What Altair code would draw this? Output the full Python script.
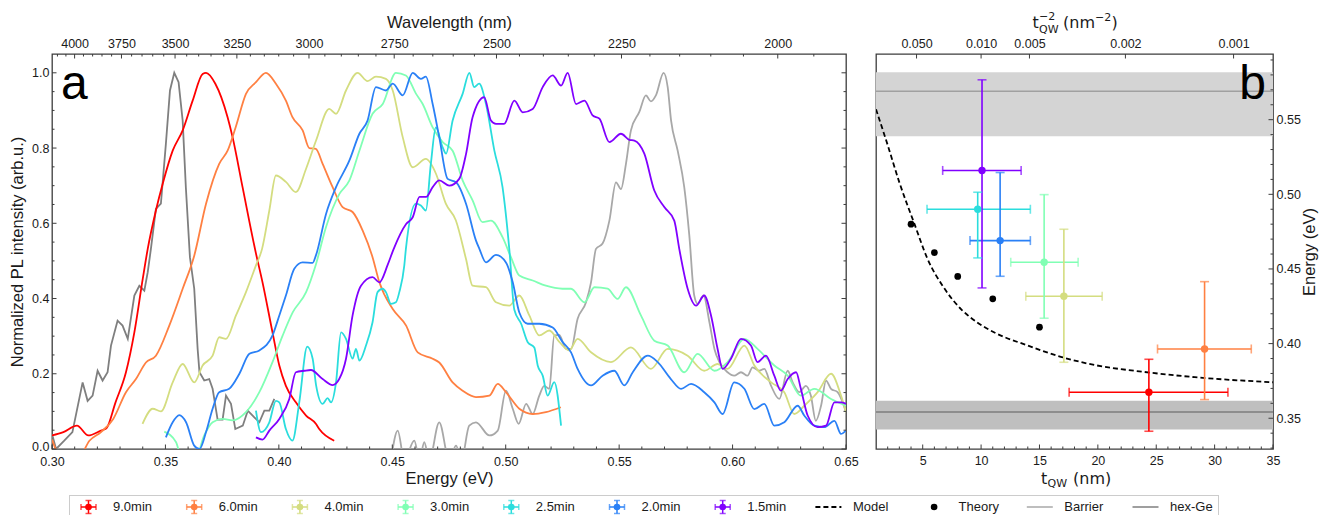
import math
import altair as alt
import pandas as pd

FONT = "Liberation Sans"
MATH_FONT = "DejaVu Sans"
INK = "#1a1a1a"
SPINE = "#3c3c3c"

# ---------------- panel a : normalized PL spectra ----------------
series_names = ["9.0min", "6.0min", "4.0min", "3.0min", "2.5min", "2.0min", "1.5min"]
series_colors = ["#ff0000", "#ff8042", "#d4dd80", "#80ffb4", "#2adddd", "#2a80f6", "#8000ff"]
hexge_color = "#7f7f7f"
barrier_color = "#a8a8a8"

e_9_0 = [0.300, 0.305, 0.311, 0.316, 0.3216, 0.324, 0.328, 0.3326, 0.3363, 0.340, 0.3422, 0.3458, 0.3488, 0.3532,
         0.3576, 0.362, 0.3664, 0.3679, 0.372, 0.3774, 0.3796, 0.384, 0.3899, 0.3928, 0.3972, 0.4002, 0.4031,
         0.4075, 0.412, 0.4163, 0.4178, 0.4244]
i_9_0 = [0.036, 0.045, 0.062, 0.036, 0.049, 0.055, 0.124, 0.204, 0.310, 0.452, 0.532, 0.634, 0.705, 0.793,
         0.847, 0.926, 0.997, 1.000, 0.971, 0.882, 0.829, 0.696, 0.520, 0.443, 0.310, 0.222, 0.168,
         0.124, 0.089, 0.067, 0.053, 0.022]

e_6_0 = [0.300, 0.304, 0.312, 0.3165, 0.3216, 0.327, 0.3326, 0.337, 0.3414, 0.3458, 0.3517, 0.3576, 0.3627,
         0.3679, 0.3737, 0.3774, 0.381, 0.3855, 0.3899, 0.3943, 0.3987, 0.4031, 0.406, 0.4105, 0.4134, 0.4163,
         0.4193, 0.4237, 0.4281, 0.4325, 0.437, 0.4413, 0.4443, 0.4502, 0.4561, 0.4612, 0.4678, 0.4707, 0.4766,
         0.481, 0.4869, 0.4928, 0.4965, 0.5001, 0.506, 0.5119, 0.5177, 0.5243]
i_6_0 = [0.025, -0.02, -0.02, 0.022, 0.045, 0.080, 0.151, 0.186, 0.230, 0.248, 0.328, 0.426, 0.514,
         0.652, 0.758, 0.793, 0.856, 0.944, 0.975, 1.000, 0.971, 0.926, 0.882, 0.847, 0.800, 0.798,
         0.758, 0.696, 0.643, 0.630, 0.580, 0.510, 0.443, 0.372, 0.328, 0.257, 0.240, 0.230, 0.177,
         0.155, 0.138, 0.142, 0.173, 0.151, 0.107, 0.093, 0.098, 0.111]

e_4_0 = [0.3399, 0.3444, 0.348, 0.3532, 0.3576, 0.3627, 0.3664, 0.3708, 0.3737, 0.3767, 0.3811, 0.3855, 0.3899,
         0.3926, 0.3958, 0.3987, 0.4031, 0.4075, 0.412, 0.4164, 0.4222, 0.4252, 0.4296, 0.4347, 0.4391, 0.4428,
         0.4472, 0.4502, 0.4546, 0.459, 0.4648, 0.4693, 0.4736, 0.478, 0.4825, 0.4854, 0.4913, 0.4957, 0.5016,
         0.506, 0.5104, 0.5148, 0.5192, 0.5237, 0.528, 0.5317, 0.5376, 0.5464, 0.5552, 0.564, 0.5714, 0.5802,
         0.5875, 0.5934, 0.5978, 0.6052, 0.6096, 0.617, 0.6228, 0.6272, 0.6316, 0.6375, 0.6434, 0.6478, 0.65]
i_4_0 = [0.067, 0.107, 0.100, 0.177, 0.226, 0.177, 0.222, 0.248, 0.297, 0.293, 0.355, 0.417, 0.488,
         0.532, 0.634, 0.727, 0.710, 0.683, 0.745, 0.820, 0.904, 0.891, 0.953, 1.000, 0.978, 0.990,
         0.984, 0.953, 0.829, 0.749, 0.771, 0.731, 0.652, 0.608, 0.505, 0.434, 0.430, 0.390, 0.381,
         0.408, 0.355, 0.302, 0.315, 0.284, 0.262, 0.293, 0.257, 0.231, 0.270, 0.213, 0.266, 0.248,
         0.208, 0.226, 0.213, 0.275, 0.222, 0.177, 0.151, 0.093, 0.115, 0.151, 0.200, 0.142, 0.098]

e_3_0 = [0.3495, 0.3547, 0.357, 0.3635, 0.3671, 0.3708, 0.3752, 0.3796, 0.3855, 0.3914, 0.3972, 0.4017, 0.4061,
         0.412, 0.4163, 0.4208, 0.4267, 0.4311, 0.4355, 0.4413, 0.4458, 0.4516, 0.456, 0.4605, 0.4634, 0.4678,
         0.4722, 0.4766, 0.481, 0.4854, 0.4898, 0.4935, 0.4986, 0.5023, 0.506, 0.5119, 0.5177, 0.525, 0.5288,
         0.5347, 0.5391, 0.5449, 0.5493, 0.553, 0.5596, 0.5655, 0.5714, 0.5787, 0.5846, 0.592, 0.5978, 0.6052,
         0.611, 0.6184, 0.6243, 0.6301, 0.636, 0.6434, 0.65]
i_3_0 = [0.046, 0.018, -0.02, -0.02, 0.036, 0.071, 0.080, 0.076, 0.098, 0.151, 0.231, 0.302, 0.363,
         0.417, 0.490, 0.590, 0.678, 0.714, 0.793, 0.891, 0.917, 1.000, 0.993, 0.944, 0.917, 0.855,
         0.816, 0.793, 0.714, 0.661, 0.603, 0.607, 0.563, 0.510, 0.461, 0.448, 0.434, 0.426, 0.426,
         0.390, 0.430, 0.426, 0.399, 0.430, 0.355, 0.288, 0.275, 0.204, 0.253, 0.208, 0.231, 0.293,
         0.266, 0.222, 0.195, 0.142, 0.160, 0.133, 0.115]

e_2_5 = [0.3899, 0.3921, 0.3958, 0.3987, 0.4002, 0.4031, 0.406, 0.409, 0.4125, 0.4149, 0.4164, 0.4193, 0.4215,
         0.423, 0.4252, 0.4274, 0.4296, 0.4325, 0.434, 0.4355, 0.4384, 0.4413, 0.4435, 0.4458, 0.4472, 0.4494,
         0.4516, 0.4531, 0.4553, 0.456, 0.4604, 0.4626, 0.4648, 0.467, 0.4692, 0.4722, 0.4737, 0.4766, 0.481,
         0.484, 0.4861, 0.4883, 0.4913, 0.495, 0.4986, 0.5016, 0.5038, 0.5068, 0.5097, 0.5126, 0.5141, 0.5163,
         0.5185, 0.5214, 0.5244]
i_2_5 = [0.102, 0.045, 0.071, 0.128, 0.124, 0.053, 0.022, 0.124, 0.272, 0.240, 0.170, 0.120, 0.135,
         0.124, 0.177, 0.310, 0.293, 0.240, 0.266, 0.235, 0.275, 0.337, 0.417, 0.426, 0.417, 0.386,
         0.390, 0.417, 0.488, 0.532, 0.652, 0.647, 0.634, 0.758, 0.855, 0.802, 0.785, 0.873, 0.944,
         1.000, 0.962, 0.971, 0.917, 0.793, 0.696, 0.530, 0.370, 0.333, 0.284, 0.270, 0.222, 0.195,
         0.142, 0.178, 0.062]

e_2_0 = [0.3502, 0.3532, 0.3561, 0.3591, 0.3627, 0.365, 0.3679, 0.3708, 0.3737, 0.3781, 0.3826, 0.387, 0.3914,
         0.3972, 0.4002, 0.4031, 0.4068, 0.4105, 0.4149, 0.4163, 0.4208, 0.4252, 0.4311, 0.4355, 0.4391, 0.4428,
         0.4472, 0.4502, 0.4546, 0.459, 0.4626, 0.4648, 0.4678, 0.4707, 0.4744, 0.4781, 0.4825, 0.4869, 0.4884,
         0.4913, 0.4957, 0.5001, 0.5031, 0.506, 0.5097, 0.5148, 0.5207, 0.5251, 0.5288, 0.5317, 0.5376, 0.5427,
         0.5479, 0.5523, 0.556, 0.5626, 0.567, 0.5728, 0.5773, 0.5817, 0.5875, 0.592, 0.5956, 0.6007, 0.6052,
         0.6096, 0.614, 0.6184, 0.6228, 0.6287, 0.6316, 0.636, 0.6404, 0.6449, 0.6478, 0.65]
i_2_0 = [0.031, 0.071, 0.090, 0.071, 0.009, 0.0, 0.045, 0.107, 0.151, 0.160, 0.200, 0.253, 0.262,
         0.302, 0.355, 0.408, 0.479, 0.496, 0.495, 0.514, 0.625, 0.696, 0.767, 0.838, 0.873, 0.962,
         0.953, 0.971, 0.940, 1.000, 0.984, 0.990, 0.917, 0.829, 0.718, 0.709, 0.652, 0.554, 0.532,
         0.496, 0.516, 0.496, 0.443, 0.363, 0.333, 0.333, 0.323, 0.284, 0.257, 0.213, 0.169, 0.195,
         0.208, 0.169, 0.204, 0.248, 0.231, 0.186, 0.160, 0.173, 0.151, 0.124, 0.093, 0.177, 0.160,
         0.106, 0.120, 0.062, 0.071, 0.115, 0.089, 0.062, 0.058, 0.075, 0.040, 0.049]

e_1_5 = [0.3899, 0.3928, 0.3958, 0.4002, 0.4046, 0.4075, 0.4112, 0.4141, 0.4193, 0.4237, 0.4266, 0.4296, 0.4325,
         0.4362, 0.4413, 0.4443, 0.448, 0.4505, 0.4561, 0.459, 0.462, 0.4649, 0.4678, 0.4707, 0.4751, 0.4795,
         0.4825, 0.4854, 0.4905, 0.4935, 0.4957, 0.4993, 0.5038, 0.5075, 0.5119, 0.5163, 0.5207, 0.5244, 0.5273,
         0.531, 0.5347, 0.5383, 0.5413, 0.5457, 0.5508, 0.5545, 0.5567, 0.5611, 0.5655, 0.5699, 0.5743, 0.5765,
         0.5802, 0.5839, 0.5875, 0.5905, 0.5934, 0.5956, 0.5993, 0.6037, 0.6081, 0.611, 0.6147, 0.6184, 0.6213,
         0.6243, 0.628, 0.6301, 0.6331, 0.6375, 0.6412, 0.6449, 0.6478, 0.65]
i_1_5 = [0.031, 0.025, 0.049, 0.080, 0.133, 0.204, 0.208, 0.210, 0.186, 0.170, 0.186, 0.240, 0.355,
         0.434, 0.457, 0.443, 0.490, 0.530, 0.598, 0.616, 0.670, 0.670, 0.696, 0.714, 0.700, 0.718,
         0.784, 0.882, 0.935, 0.873, 0.864, 0.864, 0.926, 0.895, 0.904, 0.962, 0.993, 0.966, 1.000,
         0.917, 0.926, 0.887, 0.878, 0.816, 0.838, 0.822, 0.820, 0.785, 0.687, 0.643, 0.607, 0.532,
         0.426, 0.381, 0.408, 0.355, 0.266, 0.213, 0.240, 0.293, 0.275, 0.231, 0.248, 0.195, 0.155,
         0.186, 0.204, 0.160, 0.089, 0.058, 0.062, 0.124, 0.124, 0.120]

e_hexge = [0.300, 0.3018, 0.3054, 0.309, 0.3135, 0.3157, 0.3179, 0.3201, 0.3223, 0.3245, 0.326, 0.3289, 0.3311,
           0.3334, 0.3363, 0.3385, 0.3407, 0.3422, 0.3436, 0.3458, 0.348, 0.3502, 0.352, 0.3539, 0.3558, 0.3576,
           0.359, 0.3608, 0.3627, 0.3642, 0.365, 0.3671, 0.3693, 0.3708, 0.373, 0.3752, 0.3767, 0.3789, 0.3808,
           0.3841, 0.3863, 0.3892, 0.3914, 0.3936, 0.3958, 0.398]
i_hexge = [0.040, 0.0, 0.022, 0.045, 0.177, 0.128, 0.142, 0.208, 0.182, 0.204, 0.275, 0.341, 0.328,
           0.293, 0.408, 0.434, 0.421, 0.470, 0.532, 0.638, 0.652, 0.811, 0.953, 1.000, 0.975, 0.873,
           0.696, 0.510, 0.426, 0.266, 0.204, 0.182, 0.186, 0.160, 0.078, 0.078, 0.142, 0.120, 0.053,
           0.062, 0.102, 0.084, 0.071, 0.102, 0.102, 0.133]

e_barrier = [0.4494, 0.4524, 0.4553, 0.4597, 0.462, 0.4641, 0.4663, 0.4707, 0.4751, 0.4781, 0.4805, 0.4839,
             0.4869, 0.4928, 0.4965, 0.5001, 0.5031, 0.5057, 0.509, 0.5119, 0.5148, 0.517, 0.5192, 0.5214, 0.5236,
             0.5266, 0.5288, 0.5317, 0.5354, 0.5376, 0.5398, 0.5427, 0.5457, 0.5486, 0.5508, 0.553, 0.5552,
             0.5589, 0.5618, 0.564, 0.5662, 0.5696, 0.5714, 0.5729, 0.5758, 0.5787, 0.5809, 0.5831, 0.5846,
             0.5872, 0.5898, 0.592, 0.5942, 0.5978, 0.6007, 0.6037, 0.6066, 0.6088, 0.6118, 0.614, 0.6169,
             0.6206, 0.6243, 0.6265, 0.6294, 0.6323, 0.6345, 0.6367, 0.639, 0.6412, 0.6434, 0.6463, 0.65]
i_barrier = [-0.03, 0.049, -0.03, 0.022, -0.03, 0.018, -0.03, 0.071, -0.03, 0.009, -0.03, 0.062,
             0.071, 0.036, 0.049, 0.155, 0.107, 0.067, 0.120, 0.093, 0.142, 0.168, 0.160, 0.302, 0.303,
             0.266, 0.266, 0.346, 0.390, 0.443, 0.532, 0.546, 0.607, 0.709, 0.691, 0.758, 0.847,
             0.896, 0.940, 0.924, 0.940, 1.000, 0.962, 0.873, 0.793, 0.696, 0.570, 0.408, 0.386,
             0.408, 0.337, 0.266, 0.231, 0.204, 0.195, 0.204, 0.195, 0.217, 0.208, 0.213, 0.169,
             0.133, 0.208, 0.177, 0.151, 0.168, 0.142, 0.075, 0.115, 0.182, 0.160, 0.151, 0.098]

# axis ticks of panel a
pa_x_major = [0.30, 0.35, 0.40, 0.45, 0.50, 0.55, 0.60, 0.65]
pa_x_minor = [0.31, 0.32, 0.33, 0.34, 0.36, 0.37, 0.38, 0.39, 0.41, 0.42, 0.43, 0.44, 0.46, 0.47, 0.48, 0.49,
              0.51, 0.52, 0.53, 0.54, 0.56, 0.57, 0.58, 0.59, 0.61, 0.62, 0.63, 0.64]
pa_y_major = [0.0, 0.2, 0.4, 0.6, 0.8, 1.0]
pa_y_minor = [0.05, 0.1, 0.15, 0.25, 0.3, 0.35, 0.45, 0.5, 0.55, 0.65, 0.7, 0.75, 0.85, 0.9, 0.95]
wl_major = [4000, 3750, 3500, 3250, 3000, 2750, 2500, 2250, 2000]
wl_minor = [4100, 4050, 3950, 3900, 3850, 3800, 3700, 3650, 3600, 3550, 3450, 3400, 3350, 3300, 3200, 3150,
            3100, 3050, 2950, 2900, 2850, 2800, 2700, 2650, 2600, 2550, 2450, 2400, 2350, 2300, 2200, 2150,
            2100, 2050, 1950]
HC = 1239.84  # eV*nm

# ---------------- panel b : energy vs QW thickness ----------------
exp_t = [24.37, 29.14, 17.09, 15.40, 9.71, 11.63, 10.08]
exp_t_lo = [17.54, 25.11, 13.83, 12.54, 5.37, 9.05, 6.71]
exp_t_hi = [31.14, 33.14, 20.37, 18.31, 14.22, 14.22, 13.43]
exp_E = [0.3674, 0.3964, 0.4317, 0.4545, 0.490, 0.469, 0.516]
exp_E_lo = [0.3413, 0.3625, 0.3875, 0.417, 0.4574, 0.4451, 0.4373]
exp_E_hi = [0.3895, 0.4415, 0.4766, 0.4998, 0.5014, 0.5146, 0.5767]

theory_t = [4, 6, 8, 11, 15]
theory_E = [0.480, 0.461, 0.445, 0.430, 0.411]

model_t = [1.0, 2.0, 3.0, 4.3, 5.4, 6.85, 8.3, 9.7, 11.1, 14.0, 16.9, 19.7, 24.0, 28.3, 35.0]
model_E = [0.557, 0.533, 0.508, 0.480, 0.457, 0.437, 0.423, 0.414, 0.4076, 0.3987, 0.391, 0.3857, 0.381,
           0.3775, 0.3741]

band_names = ["Barrier", "hex-Ge"]
band_lo = [0.5389, 0.3424]
band_hi = [0.5818, 0.3618]
band_mid = [0.569, 0.3542]
band_fill = ["#d4d4d4", "#bfbfbf"]
band_line = ["#a0a0a0", "#7c7c7c"]

pb_x_major = [5, 10, 15, 20, 25, 30, 35]
pb_x_minor = [2, 3, 4, 6, 7, 8, 9, 11, 12, 13, 14, 16, 17, 18, 19, 21, 22, 23, 24, 26, 27, 28, 29, 31, 32, 33, 34]
pb_y_major = [0.35, 0.40, 0.45, 0.50, 0.55]
pb_y_minor = [0.33, 0.34, 0.36, 0.37, 0.38, 0.39, 0.41, 0.42, 0.43, 0.44, 0.46, 0.47, 0.48, 0.49, 0.51, 0.52,
              0.53, 0.54, 0.56, 0.57, 0.58, 0.59]
pb_top_vals = [0.050, 0.010, 0.005, 0.002, 0.001]

# legend entries
legend_labels = series_names + ["Model", "Theory", "Barrier", "hex-Ge"]
legend_line_colors = ["black", "black", barrier_color, hexge_color]

# ---------------- layout constants ----------------
WA, HA = 794, 395
WB, HB = 397, 395
MAJ, MIN = 4.5, 2.5
PAD_LEFT = 8
ROW_LEFT = 51.5   # page x of the panels' plot-area left edge (legend row aligns to it)

xsA = alt.Scale(domain=[0.30, 0.65], nice=False, zero=False)
ysA = alt.Scale(domain=[0.0, 1.05], nice=False, zero=False)
xsB = alt.Scale(domain=[1, 35], nice=False, zero=False)
ysB = alt.Scale(domain=[0.3294, 0.594], nice=False, zero=False)
col_scale = alt.Scale(domain=series_names, range=series_colors)


def xticks(values, scale, axis, H, length, top=False, field="v", calc=None):
    base = alt.Chart(pd.DataFrame({"v": values}))
    if calc:
        base = base.transform_calculate(**calc)
    if top:
        y, y2 = alt.value(0), alt.value(length)
    else:
        y, y2 = alt.value(H), alt.value(H - length)
    return base.mark_rule(color=SPINE, strokeWidth=1).encode(
        x=alt.X(f"{field}:Q", scale=scale, axis=axis), y=y, y2=y2)


def yticks(values, scale, axis, W, length, right=False):
    base = alt.Chart(pd.DataFrame({"v": values}))
    if right:
        x, x2 = alt.value(W), alt.value(W - length)
    else:
        x, x2 = alt.value(0), alt.value(length)
    return base.mark_rule(color=SPINE, strokeWidth=1).encode(
        y=alt.Y("v:Q", scale=scale, axis=axis), x=x, x2=x2)


# ---------------- build panel a ----------------
frames = []
for name, e, i in zip(series_names, [e_9_0, e_6_0, e_4_0, e_3_0, e_2_5, e_2_0, e_1_5],
                      [i_9_0, i_6_0, i_4_0, i_3_0, i_2_5, i_2_0, i_1_5]):
    d = pd.DataFrame({"E": e, "I": i})
    d["series"] = name
    d["n"] = range(len(d))
    frames.append(d)
spec_df = pd.concat(frames, ignore_index=True)

hexge_df = pd.DataFrame({"E": e_hexge, "I": i_hexge})
barrier_df = pd.DataFrame({"E": e_barrier, "I": i_barrier})

x_axis_a = alt.Axis(values=pa_x_major, format=".2f", title="Energy (eV)", labelPadding=6, titlePadding=3)
y_axis_a = alt.Axis(values=pa_y_major, format=".1f", title="Normalized PL intensity (arb.u.)",
                    labelPadding=3, titlePadding=6,
                    labelOffset=alt.condition("datum.value == 0", alt.value(-2.5), alt.value(0)))

barrier_line_a = alt.Chart(barrier_df).mark_line(
    color=barrier_color, strokeWidth=1.8, clip=True, interpolate="monotone").encode(
    x=alt.X("E:Q", scale=xsA, axis=x_axis_a), y=alt.Y("I:Q", scale=ysA, axis=y_axis_a))
hexge_line_a = alt.Chart(hexge_df).mark_line(
    color=hexge_color, strokeWidth=1.8, clip=True).encode(
    x=alt.X("E:Q", scale=xsA, axis=x_axis_a), y=alt.Y("I:Q", scale=ysA, axis=y_axis_a))
spectra = alt.Chart(spec_df).mark_line(strokeWidth=1.8, clip=True, interpolate="monotone").encode(
    x=alt.X("E:Q", scale=xsA, axis=x_axis_a),
    y=alt.Y("I:Q", scale=ysA, axis=y_axis_a),
    color=alt.Color("series:N", scale=col_scale, legend=None),
    detail="series:N",
    order="n:Q",
)
label_a = alt.Chart(pd.DataFrame({"k": [0]})).mark_text(
    text="a", font=FONT, fontSize=48, align="left", baseline="alphabetic", color="black").encode(
    x=alt.value(9), y=alt.value(45))

core_a = alt.layer(
    barrier_line_a, hexge_line_a, spectra,
    xticks(pa_x_major, xsA, x_axis_a, HA, MAJ), xticks(pa_x_minor, xsA, x_axis_a, HA, MIN),
    xticks(wl_major, xsA, x_axis_a, HA, MAJ, top=True, field="E", calc={"E": f"{HC}/datum.v"}),
    xticks(wl_minor, xsA, x_axis_a, HA, MIN, top=True, field="E", calc={"E": f"{HC}/datum.v"}),
    yticks(pa_y_major, ysA, y_axis_a, WA, MAJ), yticks(pa_y_minor, ysA, y_axis_a, WA, MIN),
    yticks(pa_y_major, ysA, y_axis_a, WA, MAJ, right=True), yticks(pa_y_minor, ysA, y_axis_a, WA, MIN, right=True),
    label_a,
)

top_a = alt.Chart(pd.DataFrame({"nm": wl_major})).transform_calculate(
    E=f"{HC}/datum.nm").mark_point(opacity=0).encode(
    x=alt.X("E:Q", scale=xsA, axis=alt.Axis(
        orient="top", values=[HC / w for w in wl_major],
        labelExpr=f"format(round({HC}/datum.value), 'd')",
        title="Wavelength (nm)", labelPadding=4, titlePadding=7)),
    y=alt.value(0))

panel_a = alt.layer(core_a, top_a).resolve_scale(x="independent").properties(width=WA, height=HA)

# ---------------- build panel b ----------------
exp_df = pd.DataFrame({"series": series_names, "t": exp_t, "t_lo": exp_t_lo, "t_hi": exp_t_hi,
                       "E": exp_E, "E_lo": exp_E_lo, "E_hi": exp_E_hi})
theory_df = pd.DataFrame({"t": theory_t, "E": theory_E})
model_df = pd.DataFrame({"t": model_t, "E": model_E})
band_df = pd.DataFrame({"name": band_names, "lo": band_lo, "hi": band_hi, "mid": band_mid,
                        "fill": band_fill, "line": band_line})

x_axis_b = alt.Axis(values=pb_x_major, format="d", title=None, labelPadding=5)
y_axis_b = alt.Axis(orient="right", values=pb_y_major, format=".2f", title="Energy (eV)",
                    titleAngle=270, titleBaseline="top", labelPadding=3, titlePadding=1)

bands = alt.Chart(band_df).mark_rect().encode(
    y=alt.Y("lo:Q", scale=ysB, axis=y_axis_b), y2="hi:Q",
    x=alt.value(0), x2=alt.value(WB),
    fill=alt.Fill("fill:N", scale=None))
band_lines = alt.Chart(band_df).mark_rule(strokeWidth=1.5).encode(
    y=alt.Y("mid:Q", scale=ysB, axis=y_axis_b),
    x=alt.value(0), x2=alt.value(WB),
    color=alt.Color("line:N", scale=None))
model = alt.Chart(model_df).mark_line(color="black", strokeWidth=1.8, strokeDash=[5, 3],
                                      interpolate="monotone", clip=True).encode(
    x=alt.X("t:Q", scale=xsB, axis=x_axis_b), y=alt.Y("E:Q", scale=ysB, axis=y_axis_b))

eb = alt.Chart(exp_df)
ccol = alt.Color("series:N", scale=col_scale, legend=None)
hbar = eb.mark_rule(strokeWidth=1.6).encode(
    x=alt.X("t_lo:Q", scale=xsB, axis=x_axis_b), x2="t_hi:Q",
    y=alt.Y("E:Q", scale=ysB, axis=y_axis_b), color=ccol)
vbar = eb.mark_rule(strokeWidth=1.6).encode(
    x=alt.X("t:Q", scale=xsB, axis=x_axis_b),
    y=alt.Y("E_lo:Q", scale=ysB, axis=y_axis_b), y2="E_hi:Q", color=ccol)
caps = []
for fx, fy, ori in [("t_lo", "E", "vertical"), ("t_hi", "E", "vertical"),
                    ("t", "E_lo", "horizontal"), ("t", "E_hi", "horizontal")]:
    caps.append(eb.mark_tick(orient=ori, size=9, thickness=1.6).encode(
        x=alt.X(f"{fx}:Q", scale=xsB, axis=x_axis_b),
        y=alt.Y(f"{fy}:Q", scale=ysB, axis=y_axis_b), color=ccol))
pts = eb.mark_circle(size=55, opacity=1).encode(
    x=alt.X("t:Q", scale=xsB, axis=x_axis_b), y=alt.Y("E:Q", scale=ysB, axis=y_axis_b), color=ccol)
theory = alt.Chart(theory_df).mark_circle(size=45, color="black", opacity=1).encode(
    x=alt.X("t:Q", scale=xsB, axis=x_axis_b), y=alt.Y("E:Q", scale=ysB, axis=y_axis_b))

label_b = alt.Chart(pd.DataFrame({"k": [0]})).mark_text(
    text="b", font=FONT, fontSize=48, align="right", baseline="alphabetic", color="black").encode(
    x=alt.value(390), y=alt.value(45))


def txt(s, x, y, size, font=MATH_FONT):
    return alt.Chart(pd.DataFrame({"k": [0]})).mark_text(
        text=s, font=font, fontSize=size, align="left", baseline="alphabetic", color=INK).encode(
        x=alt.value(x), y=alt.value(y))


title_bits = [
    # bottom: t_QW (nm)
    txt("t", 165, 430, 16), txt("QW", 171.5, 433, 11), txt("(nm)", 197, 430, 16),
    # top: t_QW^-2 (nm^-2)
    txt("t", 156.5, -26, 16), txt("\u22122", 163, -34, 11), txt("QW", 163, -21, 11),
    txt("(nm", 187, -26, 16), txt("\u22122", 219, -33, 11), txt(")", 235.5, -26, 16),
]

core_b = alt.layer(
    bands, band_lines, model, hbar, vbar, *caps, pts, theory,
    xticks(pb_x_major, xsB, x_axis_b, HB, MAJ), xticks(pb_x_minor, xsB, x_axis_b, HB, MIN),
    xticks(pb_top_vals, xsB, x_axis_b, HB, MAJ, top=True, field="t", calc={"t": "1/sqrt(datum.v)"}),
    yticks(pb_y_major, ysB, y_axis_b, WB, MAJ, right=True), yticks(pb_y_minor, ysB, y_axis_b, WB, MIN, right=True),
    label_b, *title_bits,
)

top_b = alt.Chart(pd.DataFrame({"v": pb_top_vals})).transform_calculate(
    t="1/sqrt(datum.v)").mark_point(opacity=0).encode(
    x=alt.X("t:Q", scale=xsB, axis=alt.Axis(
        orient="top", values=[1 / math.sqrt(v) for v in pb_top_vals],
        labelExpr="format(1/(datum.value*datum.value), '.3f')", title=None, labelPadding=4)),
    y=alt.value(0))

panel_b = alt.layer(core_b, top_b).resolve_scale(x="independent").properties(width=WB, height=HB)

# ---------------- legend row ----------------
SPACING_PX = 105.7
FIRST_PX = 88 - ROW_LEFT      # first legend symbol, from the row's left edge
LEG_W, LEG_H, LEG_Y = 1218 - ROW_LEFT, 22, 12
lo = -FIRST_PX / SPACING_PX
xsL = alt.Scale(domain=[lo, lo + LEG_W / SPACING_PX], nice=False, zero=False)
leg_df = pd.DataFrame({"idx": list(range(len(legend_labels))), "label": legend_labels})
leg_err = pd.DataFrame({"idx": list(range(len(series_names))), "series": series_names})
box_df = pd.DataFrame({"x0": [(69 - 88) / SPACING_PX], "x1": [lo + LEG_W / SPACING_PX]})
BOX = "#cccccc"

box_fill = alt.Chart(box_df).mark_rect(fill="white").encode(
    x=alt.X("x0:Q", scale=xsL, axis=None), x2="x1:Q", y=alt.value(0), y2=alt.value(LEG_H))
box_top = alt.Chart(box_df).mark_rule(color=BOX, strokeWidth=1).encode(
    x=alt.X("x0:Q", scale=xsL, axis=None), x2="x1:Q", y=alt.value(0.5))
box_left = alt.Chart(box_df).mark_rule(color=BOX, strokeWidth=1).encode(
    x=alt.X("x0:Q", scale=xsL, axis=None), y=alt.value(0), y2=alt.value(LEG_H))
box_right = alt.Chart(box_df).mark_rule(color=BOX, strokeWidth=1).encode(
    x=alt.X("x1:Q", scale=xsL, axis=None), y=alt.value(0), y2=alt.value(LEG_H))

le = alt.Chart(leg_err)
hw = 7.5 / SPACING_PX
leg_h = le.transform_calculate(a=f"datum.idx-{hw}", b=f"datum.idx+{hw}").mark_rule(strokeWidth=1.5).encode(
    x=alt.X("a:Q", scale=xsL, axis=None), x2="b:Q", y=alt.value(LEG_Y), color=ccol)
leg_v = le.mark_rule(strokeWidth=1.5).encode(
    x=alt.X("idx:Q", scale=xsL, axis=None), y=alt.value(LEG_Y - 6.5), y2=alt.value(LEG_Y + 6.5), color=ccol)
leg_caps_v = [le.transform_calculate(a=f"datum.idx{s}{hw}").mark_tick(orient="vertical", size=6, thickness=1.5).encode(
    x=alt.X("a:Q", scale=xsL, axis=None), y=alt.value(LEG_Y), color=ccol) for s in ["-", "+"]]
leg_caps_h = [le.mark_tick(orient="horizontal", size=6, thickness=1.5).encode(
    x=alt.X("idx:Q", scale=xsL, axis=None), y=alt.value(LEG_Y + d), color=ccol) for d in [-6.5, 6.5]]
leg_pts = le.mark_circle(size=45, opacity=1).encode(
    x=alt.X("idx:Q", scale=xsL, axis=None), y=alt.value(LEG_Y), color=ccol)

other = leg_df[leg_df["label"].isin(["Model", "Theory", "Barrier", "hex-Ge"])].copy()
other["c"] = legend_line_colors
lw = 13 / SPACING_PX
leg_model = alt.Chart(other[other["label"] == "Model"]).transform_calculate(
    a=f"datum.idx-{lw}", b=f"datum.idx+{lw}").mark_rule(color="black", strokeWidth=1.8, strokeDash=[5, 3]).encode(
    x=alt.X("a:Q", scale=xsL, axis=None), x2="b:Q", y=alt.value(LEG_Y))
leg_theory = alt.Chart(other[other["label"] == "Theory"]).mark_circle(size=45, color="black", opacity=1).encode(
    x=alt.X("idx:Q", scale=xsL, axis=None), y=alt.value(LEG_Y))
leg_bands = alt.Chart(other[other["label"].isin(["Barrier", "hex-Ge"])]).transform_calculate(
    a=f"datum.idx-{lw}", b=f"datum.idx+{lw}").mark_rule(strokeWidth=1.5).encode(
    x=alt.X("a:Q", scale=xsL, axis=None), x2="b:Q", y=alt.value(LEG_Y),
    color=alt.Color("c:N", scale=None))
leg_text = alt.Chart(leg_df).mark_text(align="left", baseline="middle", font=FONT, fontSize=13, color=INK,
                                       dx=24.5).encode(
    x=alt.X("idx:Q", scale=xsL, axis=None), y=alt.value(LEG_Y), text="label:N")

legend = alt.layer(box_fill, box_top, box_left, box_right, leg_h, leg_v, *leg_caps_v, *leg_caps_h, leg_pts,
                   leg_model, leg_theory, leg_bands, leg_text).properties(
    width=LEG_W, height=LEG_H, view=alt.ViewBackground(stroke="transparent"))

top_row = alt.hconcat(panel_a, panel_b, spacing=30, bounds="flush")
chart = alt.vconcat(top_row, legend, spacing=3).properties(
    padding={"left": PAD_LEFT, "top": 10, "right": 0, "bottom": 0}, background="white"
).configure_axis(
    labelFont=FONT, labelFontSize=12.5, labelColor=INK, titleFont=FONT, titleFontSize=16.5,
    titleFontWeight="normal", titleColor=INK, grid=False, domain=False, ticks=False,
    labelFlush=False, labelOverlap=False,
).configure_view(stroke=SPINE, strokeWidth=1.3)

chart.save("out.html", embed_options={"renderer": "svg", "actions": False})
